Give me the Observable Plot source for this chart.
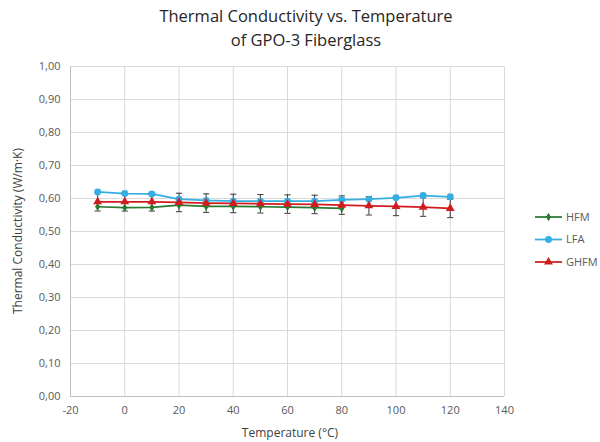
<!DOCTYPE html>
<html>
<head>
<meta charset="utf-8">
<script src="https://cdn.jsdelivr.net/npm/d3@7"></script>
<script src="https://cdn.jsdelivr.net/npm/@observablehq/plot@0.6"></script>
<style>
  html, body { margin: 0; padding: 0; background: #fff; }
  #chart { position: relative; width: 600px; height: 442px; }
  svg { font-family: "Open Sans", sans-serif; }
</style>
</head>
<body>
<div id="chart"></div>
<script>
// Temperatures (°C) at which each method was measured
const temps = [-10, 0, 10, 20, 30, 40, 50, 60, 70, 80, 90, 100, 110, 120];
// Thermal conductivity (W/m·K) per measurement method
const hfm  = [0.575, 0.572, 0.573, 0.580, 0.576, 0.576, 0.575, 0.574, 0.572, 0.570];
const lfa  = [0.620, 0.615, 0.614, 0.598, 0.594, 0.592, 0.592, 0.592, 0.592, 0.596, 0.598, 0.602, 0.609, 0.605];
const ghfm = [0.590, 0.590, 0.590, 0.588, 0.586, 0.585, 0.584, 0.583, 0.582, 0.580, 0.578, 0.576, 0.574, 0.570];
// GHFM measurement uncertainty (±)
const ghfmErr = [0.028, 0.028, 0.028, 0.028, 0.028, 0.028, 0.028, 0.028, 0.028, 0.028, 0.028, 0.028, 0.028, 0.028];

const seriesNames = ["HFM", "LFA", "GHFM"];
const xTicks = [-20, 0, 20, 40, 60, 80, 100, 120, 140];
const yTicks = [0, 0.1, 0.2, 0.3, 0.4, 0.5, 0.6, 0.7, 0.8, 0.9, 1.0];

const colors = {HFM: "#2a7a33", LFA: "#35aee2", GHFM: "#d01c1f"};
const symbols = {HFM: "diamond", LFA: "circle", GHFM: "triangle"};
const sizes = {HFM: 22, LFA: 38, GHFM: 34};

const rows = [];
const build = (name, values) => values.forEach((v, i) => rows.push({series: name, t: temps[i], k: v}));
build("HFM", hfm);
build("LFA", lfa);
build("GHFM", ghfm);

const errs = ghfm.map((v, i) => ({t: temps[i], lo: v - ghfmErr[i], hi: v + ghfmErr[i]}));

// horizontal stroke used as an error-bar cap
const capSymbol = {draw(ctx, size) { const r = Math.sqrt(size) / 2; ctx.moveTo(-r, 0); ctx.lineTo(r, 0); }};

const fmtComma = d => d3.format(".2f")(d).replace(".", ",");
const fmtPlain = d => String(d);

const W = 600, H = 442;
const mL = 70, mR = 96, mT = 66, mB = 46;

const plot = Plot.plot({
  width: W,
  height: H,
  marginLeft: mL,
  marginRight: mR,
  marginTop: mT,
  marginBottom: mB,
  style: {fontFamily: "'Open Sans', sans-serif", fontSize: "11px", color: "#595959", background: "#fff"},
  x: {domain: [-20, 140], ticks: xTicks, tickSize: 0, tickPadding: 10, tickFormat: fmtPlain, label: null},
  y: {domain: [0, 1], ticks: yTicks, tickSize: 0, tickPadding: 10, tickFormat: fmtComma, label: null},
  marks: [
    Plot.gridX(xTicks, {stroke: "#d9d9d9", strokeOpacity: 1}),
    Plot.gridY(yTicks, {stroke: "#d9d9d9", strokeOpacity: 1}),
    Plot.ruleY([0], {stroke: "#bfbfbf"}),
    Plot.ruleX([-20], {stroke: "#bfbfbf"}),
    Plot.axisX({ticks: xTicks, tickSize: 0, tickPadding: 10, tickFormat: fmtPlain, label: null, fill: "#595959"}),
    Plot.axisY({ticks: yTicks, tickSize: 0, tickPadding: 10, tickFormat: fmtComma, label: null, fill: "#595959"}),
    Plot.line(rows, {x: "t", y: "k", z: "series", stroke: d => colors[d.series], strokeWidth: 1.75}),
    Plot.ruleX(errs, {x: "t", y1: "lo", y2: "hi", stroke: "#3a3a3a", strokeWidth: 1}),
    Plot.dot(errs, {x: "t", y: "lo", symbol: capSymbol, r: 3.5, stroke: "#3a3a3a", strokeWidth: 1, fill: "none"}),
    Plot.dot(errs, {x: "t", y: "hi", symbol: capSymbol, r: 3.5, stroke: "#3a3a3a", strokeWidth: 1, fill: "none"}),
    ...seriesNames.map(name => Plot.dot(rows.filter(d => d.series === name), {
      x: "t", y: "k", symbol: symbols[name], fill: colors[name], stroke: "none",
      r: Math.sqrt(sizes[name] / Math.PI)
    }))
  ]
});

const svg = d3.select(plot);

// Title
const title = svg.append("text")
  .attr("text-anchor", "middle")
  .attr("fill", "#262626")
  .style("font-size", "16.5px");
title.append("tspan").attr("x", 306).attr("y", 22).text("Thermal Conductivity vs. Temperature");
title.append("tspan").attr("x", 306).attr("y", 46).text("of GPO-3 Fiberglass");

// Axis titles
svg.append("text")
  .attr("x", mL + (W - mL - mR) / 2 + 3).attr("y", 437)
  .attr("text-anchor", "middle").attr("fill", "#404040")
  .style("font-size", "12px")
  .text("Temperature (°C)");
svg.append("text")
  .attr("transform", `translate(22,${mT + (H - mT - mB) / 2}) rotate(-90)`)
  .attr("text-anchor", "middle").attr("fill", "#404040")
  .style("font-size", "12px")
  .text("Thermal Conductivity (W/m·K)");

// Legend
const legY = d3.scalePoint().domain(seriesNames).range([217, 262]);
const leg = svg.append("g").attr("text-anchor", "start").selectAll("g").data(seriesNames).join("g")
  .attr("transform", d => `translate(535,${legY(d)})`);
leg.append("line").attr("x1", 0).attr("x2", 27).attr("stroke", d => colors[d]).attr("stroke-width", 1.75);
leg.append("path")
  .attr("transform", "translate(13.5,0)")
  .attr("d", d => d3.symbol(d === "HFM" ? d3.symbolDiamond : d === "LFA" ? d3.symbolCircle : d3.symbolTriangle, sizes[d])())
  .attr("fill", d => colors[d]);
leg.append("text").attr("x", 31).attr("dy", "0.35em").attr("fill", "#595959")
  .attr("text-anchor", "start")
  .style("font-size", "11px").text(d => d);

document.getElementById("chart").appendChild(plot);
</script>
</body>
</html>
